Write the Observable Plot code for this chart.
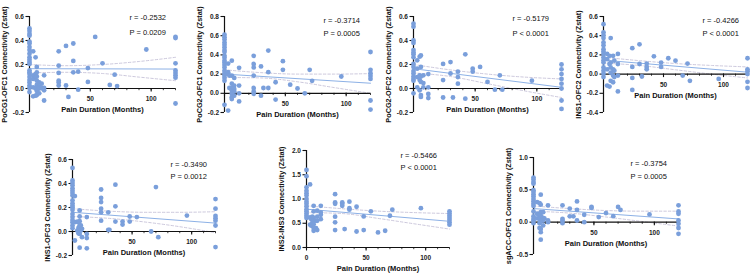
<!DOCTYPE html>
<html><head><meta charset="utf-8">
<script src="https://cdn.jsdelivr.net/npm/d3@7"></script>
<script src="https://cdn.jsdelivr.net/npm/@observablehq/plot@0.6"></script>
<style>
body{margin:0;background:#fff;}
#chart{position:relative;width:752px;height:274px;overflow:hidden;background:#fff;}
#chart svg{position:absolute;}
</style></head><body><div id="chart"></div>
<script>
// ---------- data: [month, [connectivity values]] ----------
const pocg1Ofc1 = [[0,[0.5,0.48,0.455,0.44,0.39,0.375,0.345,0.32,0.29,0.26,0.24,0.22,0.205,0.15,0.135,0.12,0.095,0.07,0.05,0.025,0.005,-0.03]],
 [3,[0.31,0.11,0.08,0.01,-0.065]],[5,[0.26,0.12,0.095,0.0,-0.06]],[6,[0.18,0.135,0.1,0.065,0.03,-0.02,-0.055]],
 [8,[0.05,0.015,0.0,-0.04]],[10,[0.04,0.005]],[12,[0.11,0.005,-0.015,-0.1]],[24,[0.31,0.19,0.13,0.065,0.05,0.025]],
 [30,[0.355,0.025]],[32,[-0.07]],[36,[0.375,0.23,0.135]],[40,[0.14,-0.01]],[48,[0.17,0.055]],[54,[0.43]],[60,[0.21]],
 [66,[0.03]],[70,[0.115]],[72,[0.02]],[96,[0.325]],[120,[0.43,0.42,0.21,0.15,0.13,0.11,0.09,-0.125]]];
const pocg2Ofc1 = [[0,[0.61,0.585,0.56,0.53,0.505,0.48,0.45,0.43,0.39,0.37,0.34,0.32,0.295,0.27,0.235,0.21,0.185,0.16,0.13,-0.12]],
 [3,[0.31,0.22,0.2,-0.18]],[4,[0.185,0.055]],[6,[0.34,0.185,0.1,0.055,0.03,-0.005,-0.04,-0.06]],[8,[0.16,0.08,0.045,0.02,-0.025]],
 [12,[0.265,0.08,0.0,-0.085]],[24,[0.39,0.305,0.27,0.185,0.055,0.02,-0.005]],[30,[0.28,-0.025]],[32,[0.055]],
 [36,[0.445,0.22,0.055]],[42,[0.115,-0.065]],[48,[0.335,0.245]],[54,[0.09]],[60,[0.05]],[66,[0.0]],[70,[0.245]],
 [72,[0.13]],[96,[0.175]],[120,[0.43,0.245,0.21,0.18,0.15,-0.075,-0.17]]];
const pocg2Ofc2 = [[0,[0.54,0.515,0.4,0.38,0.32,0.3,0.285,0.26,0.205,0.18,0.145,0.125,0.1,0.08,0.065,-0.04]],
 [3,[0.235,0.165,0.095,0.01]],[5,[0.265,0.11,0.07,-0.015]],[6,[0.275,0.18,0.1,0.055,-0.055,-0.07]],[8,[0.11,0.045,0.01]],
 [12,[0.12,0.01,-0.045,-0.08]],[24,[0.205,0.07,-0.075]],[30,[0.22,0.125]],[32,[-0.075]],[36,[0.14,0.095,0.04]],
 [42,[0.285,-0.085]],[48,[0.165,0.14]],[54,[0.18]],[60,[0.055]],[66,[-0.01]],[70,[0.11]],[72,[-0.01]],[96,[0.065]],
 [120,[0.2,0.16,0.12,0.08,0.04,0.0,-0.1,-0.17]]];
const ins1Ofc2 = [[0,[0.52,0.435,0.405,0.375,0.33,0.3,0.26,0.235,0.21,0.175,0.145,0.12,0.07,0.035,0.005,-0.03]],
 [3,[0.21,0.155,0.05,-0.12]],[5,[0.19,0.105,-0.13]],[6,[0.375,0.12,0.07,0.015,-0.07]],[8,[0.19,0.05,-0.015,-0.085]],
 [9,[0.14,0.035,-0.03]],[12,[0.21,0.105,-0.015,-0.18]],[24,[0.27,0.075,-0.04,-0.165]],[30,[0.31,0.105]],[32,[-0.025]],
 [36,[0.11,0.075,0.05]],[42,[0.185]],[48,[0.12,0.075]],[54,[0.165]],[60,[0.14]],[66,[-0.015]],[70,[0.11]],[72,[-0.07]],
 [96,[-0.05]],[120,[0.165,0.05,0.03,0.0,-0.08,-0.145]]];
const ins1Ofc3 = [[0,[0.53,0.425,0.405,0.385,0.36,0.34,0.32,0.3,0.26,0.235,0.215,0.2,0.18,0.145,0.12,0.095,0.078,0.05,0.028]],
 [2,[0.295,0.078,-0.075]],[4,[0.083,0.008]],[5,[0.078,0.03,-0.015]],[6,[0.175,0.125,0.086,0.05,0.022,-0.02,-0.135]],
 [7,[0.05,0.008]],[8,[0.022,-0.047]],[12,[0.12,-0.02,-0.055,-0.14]],[24,[0.35,0.28,0.245,0.19,0.16,0.09]],
 [30,[0.16,0.014]],[31,[0.014]],[36,[0.39,0.21,0.083]],[42,[0.083,0.058]],[48,[0.125,0.083]],[54,[0.12]],[66,[0.0]],
 [70,[0.37]],[72,[-0.047]],[96,[0.133]],[120,[0.27,0.19,0.13,0.11,0.09,0.05,-0.13]]];
const ins2Ins3 = [[0,[1.6,1.47,1.24,1.17,1.12,1.07,1.0,0.945,0.9,0.85,0.79,0.745,0.7,0.655,0.61]],
 [3,[1.3,0.62,0.47]],[4,[0.585,0.45]],[5,[0.635,0.52,0.45]],[6,[0.86,0.745,0.61,0.55,0.48,0.4,0.345]],[8,[0.55,0.4]],
 [9,[0.76,0.635,0.55,0.36]],[12,[0.86,0.725,0.675,0.585]],[24,[1.1,0.93,0.9,0.635,0.52,0.36]],[30,[0.93,0.9,0.86]],
 [32,[0.38]],[36,[0.945,0.81,0.78]],[42,[0.84,0.33]],[48,[0.64,0.36]],[54,[0.745]],[60,[0.31]],[66,[0.345]],
 [70,[0.655]],[72,[0.78]],[96,[0.81]],[120,[0.745,0.7,0.655,0.61,0.565,0.52,0.47]]];
const sgaccOfc1 = [[0,[0.69,0.66,0.62,0.595,0.495,0.465,0.43,0.4,0.36,0.325,0.285,0.25,0.165,0.09,0.05,0.025,-0.015]],
 [3,[0.31,0.13,0.06]],[5,[0.295,0.105,0.05,-0.015,-0.09]],[6,[0.425,0.27,0.155,0.105,0.05,0.015,-0.105,-0.155,-0.27]],
 [8,[0.155,0.067,0.026,-0.05]],[9,[0.06]],[12,[0.26,0.026,0.0]],[24,[0.26,0.05,0.026,-0.015]],[30,[0.21,0.09]],
 [33,[0.09]],[36,[0.32,0.19,0.026]],[42,[0.115,0.0]],[48,[0.235,0.22]],[54,[0.078]],[60,[0.14]],[66,[0.093]],
 [70,[0.235]],[72,[0.19]],[96,[0.12]],[120,[0.26,0.165,0.13,0.026,-0.026,-0.09,-0.18]]];

// regression fit (at months 0 and 120) and 95% CI bands (at months 0,30,60,90,120)
const fitMonths = [0, 120];
const ciMonths = [0, 30, 60, 90, 120];
const fits = [[0.165,0.162],[0.2,0.105],[0.165,0.01],[0.145,0.02],[0.16,0.07],[0.79,0.54],[0.21,0.05]];
const ciUpper = [[0.2,0.19,0.2,0.225,0.26],[0.245,0.215,0.2,0.2,0.205],[0.2,0.155,0.12,0.095,0.08],[0.175,0.14,0.11,0.09,0.075],
 [0.19,0.17,0.16,0.16,0.165],[0.86,0.8,0.75,0.72,0.7],[0.25,0.21,0.18,0.17,0.17]];
const ciLower = [[0.13,0.135,0.125,0.095,0.065],[0.165,0.16,0.12,0.06,0.0],[0.13,0.1,0.04,-0.02,-0.075],[0.115,0.09,0.045,0.0,-0.04],
 [0.125,0.11,0.08,0.04,-0.01],[0.72,0.7,0.6,0.49,0.38],[0.17,0.14,0.08,0.01,-0.06]];

const yLabels = ["PoCG1-OFC1 Connectivity (Zstat)","PoCG2-OFC1 Connectivity (Zstat)","PoCG2-OFC2 Connectivity (Zstat)",
 "INS1-OFC2 Connectivity (Zstat)","INS1-OFC3 Connectivity (Zstat)","INS2-INS3 Connectivity (Zstat)","sgACC-OFC1 Connectivity (Zstat)"];
const rTexts = ["r = -0.2532","r = -0.3714","r = -0.5179","r = -0.4266","r = -0.3490","r = -0.5466","r = -0.3754"];
const pTexts = ["P = 0.0209","P = 0.0005","P < 0.0001","P < 0.0001","P = 0.0012","P < 0.0001","P = 0.0005"];
const yTickSets = [[-0.2,0,0.2,0.4,0.6],[-0.2,0,0.2,0.4,0.6,0.8],[-0.2,0,0.2,0.4,0.6],[-0.4,-0.2,0,0.2,0.4,0.6],
 [-0.2,0,0.2,0.4,0.6],[0,0.5,1.0,1.5,2.0],[-0.5,0,0.5,1.0]];
const xMinorTicks = [0,10,20,30,40,50,60,70,80,90,100,110,120];
const xMajorTicks = [0,50,100];
const xLabel = "Pain Duration (Months)";
const datasets = [pocg1Ofc1,pocg2Ofc1,pocg2Ofc2,ins1Ofc2,ins1Ofc3,ins2Ins3,sgaccOfc1];

// ---------- layout (pixels) ----------
const layout = [
 {x0:29,x120:175,yTop:16,yBot:112,adx:100,rdy:1.5,pdy:16,zeroLabel:false},
 {x0:224,x120:370,yTop:16,yBot:112,adx:99,rdy:4,pdy:17.5,zeroLabel:false},
 {x0:413,x120:561,yTop:16,yBot:112,adx:99,rdy:2.5,pdy:17,zeroLabel:false},
 {x0:603,x120:747,yTop:16,yBot:112,adx:99,rdy:4,pdy:17.5,zeroLabel:false},
 {x0:72,x120:215,yTop:159,yBot:255,adx:98,rdy:5,pdy:17.5,zeroLabel:false},
 {x0:306,x120:449,yTop:150,yBot:247,adx:94,rdy:5,pdy:17.5,zeroLabel:true},
 {x0:533,x120:678,yTop:157,yBot:254,adx:97,rdy:6,pdy:19,zeroLabel:false}
];

const FONT = "Liberation Sans, Arial, sans-serif";
const DOT = "#7a9fdb", FIT = "#8db1e6", CI = "#c6c2d8";
const chart = document.getElementById("chart");
const fmt = d => d.toFixed(1);

datasets.forEach((ds, i) => {
  const L = layout[i];
  const mL = 40, mR = 10, mT = 8, mB = 30;
  const w = L.x120 - L.x0 + mL + mR;
  const h = L.yBot - L.yTop + mT + mB;
  const pts = ds.flatMap(([m, vs]) => vs.map(v => ({m, v})));
  const yt = yTickSets[i];
  const yDomain = [d3.min(yt), d3.max(yt)];
  const fit = fitMonths.map((m, k) => ({m, v: fits[i][k]}));
  const up = ciMonths.map((m, k) => ({m, v: ciUpper[i][k]}));
  const lo = ciMonths.map((m, k) => ({m, v: ciLower[i][k]}));
  const xLab = L.zeroLabel ? xMajorTicks : xMajorTicks.filter(d => d > 0);
  const xMid = (xMinorTicks[0] + xMinorTicks[xMinorTicks.length - 1]) / 2;
  const svg = Plot.plot({
    width: w, height: h, marginLeft: mL, marginRight: mR, marginTop: mT, marginBottom: mB,
    x: {domain: [0, 120], axis: null},
    y: {domain: yDomain, axis: null},
    style: {background: "transparent", overflow: "visible", fontFamily: FONT},
    marks: [
      Plot.line(up, {x: "m", y: "v", stroke: CI, strokeWidth: 0.9, strokeDasharray: "2.5,2", curve: "monotone-x"}),
      Plot.line(lo, {x: "m", y: "v", stroke: CI, strokeWidth: 0.9, strokeDasharray: "2.5,2", curve: "monotone-x"}),
      Plot.line(fit, {x: "m", y: "v", stroke: FIT, strokeWidth: 1}),
      Plot.ruleX([0], {stroke: "#111", strokeWidth: 1.2}),
      Plot.ruleY([0], {stroke: "#111", strokeWidth: 1.2}),
      Plot.ruleY(yt, {y: d => d, x1: 0, x2: 0, insetLeft: -3.5, stroke: "#111", strokeWidth: 1.1}),
      Plot.text(yt, {y: d => d, x: 0, dx: -5.5, text: fmt, textAnchor: "end", fontSize: 6.5, fontWeight: "bold", fill: "#222"}),
      Plot.ruleX(xMinorTicks, {x: d => d, y1: 0, y2: 0, insetBottom: -2.2, stroke: "#111", strokeWidth: 0.8}),
      Plot.ruleX(xMajorTicks, {x: d => d, y1: 0, y2: 0, insetBottom: -3.5, stroke: "#111", strokeWidth: 1.1}),
      Plot.text(xLab, {x: d => d, y: 0, dy: 10.5, text: d => String(d), fontSize: 6.5, fontWeight: "bold", fill: "#222"}),
      Plot.text([xLabel], {x: () => xMid, y: 0, dy: 21.5, text: d => d, fontSize: 7.5, fontWeight: "bold", fill: "#111"}),
      Plot.text([yLabels[i]], {frameAnchor: "left", dx: -25, rotate: -90, text: d => d, textAnchor: "middle", lineAnchor: "middle", fontSize: 7.3, fontWeight: "bold", fill: "#111"}),
      Plot.text([rTexts[i]], {frameAnchor: "top-left", dx: L.adx, dy: L.rdy, text: d => d, textAnchor: "start", lineAnchor: "middle", fontSize: 7.5, fill: "#111"}),
      Plot.text([pTexts[i]], {frameAnchor: "top-left", dx: L.adx, dy: L.pdy, text: d => d, textAnchor: "start", lineAnchor: "middle", fontSize: 7.5, fill: "#111"}),
      Plot.dot(pts, {x: "m", y: "v", r: 2.4, fill: DOT, stroke: "none"})
    ]
  });
  svg.style.left = (L.x0 - mL) + "px";
  svg.style.top = (L.yTop - mT) + "px";
  chart.appendChild(svg);
});
</script></body></html>
